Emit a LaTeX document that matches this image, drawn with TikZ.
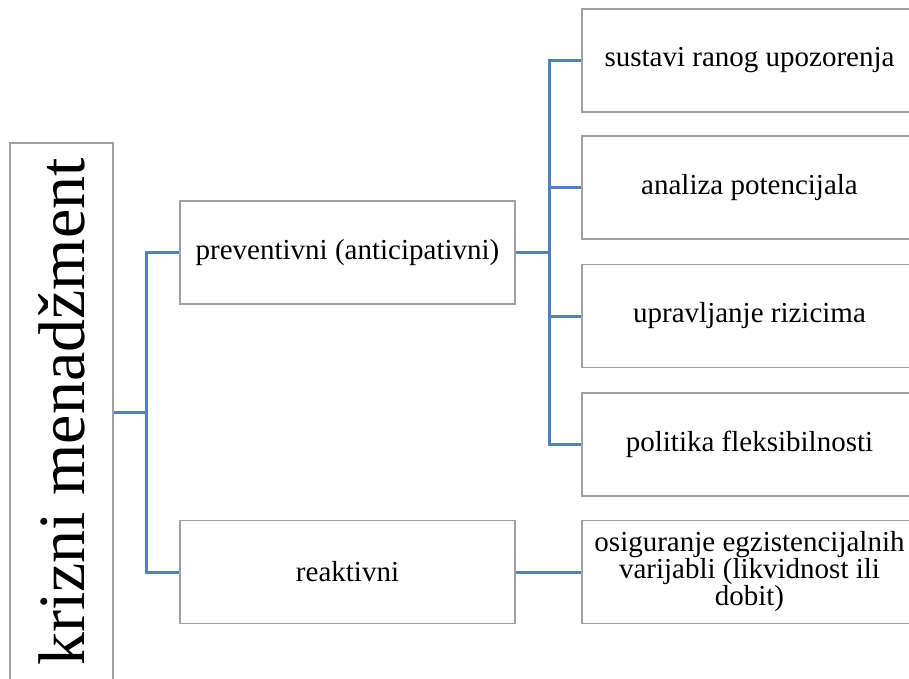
\documentclass[tikz,border=0pt]{standalone}
\usepackage{fontspec}
\setmainfont{LiberationSerif}[Extension=.ttf, UprightFont=*-Regular, BoldFont=*-Bold, ItalicFont=*-Italic]
\definecolor{connblue}{HTML}{4F81BD}
\definecolor{boxgray}{HTML}{A0A0A0}
\tikzset{
  box/.style={draw=boxgray, line width=1.5pt, fill=white, rectangle, inner sep=0pt,
    minimum width=335pt, minimum height=103pt, align=center,
    font=\fontsize{29}{27}\selectfont},
  rootbox/.style={draw=boxgray, line width=1.5pt, fill=white, rectangle, inner sep=0pt,
    minimum width=538pt, minimum height=103pt, rotate=90,
    font=\fontsize{66}{70}\selectfont},
  conn/.style={draw=connblue, line width=3pt}
}
\begin{document}
\begin{tikzpicture}[x=1pt,y=-1pt]
\useasboundingbox (0,0) rectangle (909,678);
\clip (0,0) rectangle (909,678);
\node[rootbox] (root) at (61.5,412) {krizni menadžment};
\node[box] (prev) at (347.5,252.5) {preventivni (anticipativni)};
\node[box] (reak) at (347.5,572) {reaktivni};
\node[box] (s1) at (749.5,60.5) {sustavi ranog upozorenja};
\node[box] (s2) at (749.5,187.5) {analiza potencijala};
\node[box] (s3) at (749.5,316) {upravljanje rizicima};
\node[box] (s4) at (749.5,444.5) {politika fleksibilnosti};
\node[box] (r1) at (749.5,572) {osiguranje egzistencijalnih\\varijabli (likvidnost ili\\dobit)};
\coordinate (j1) at (146.5,412);
\coordinate (j2) at (549,252.5);
\draw[conn] (root.south) -- (j1);
\draw[conn] (prev.west) -| (j1) |- (reak.west);
\draw[conn] (prev.east) -- (j2);
\draw[conn] (s1.west) -| (j2) |- (s4.west);
\draw[conn] (j2 |- s2.west) -- (s2.west);
\draw[conn] (j2 |- s3.west) -- (s3.west);
\draw[conn] (reak.east) -- (r1.west);
\end{tikzpicture}
\end{document}
